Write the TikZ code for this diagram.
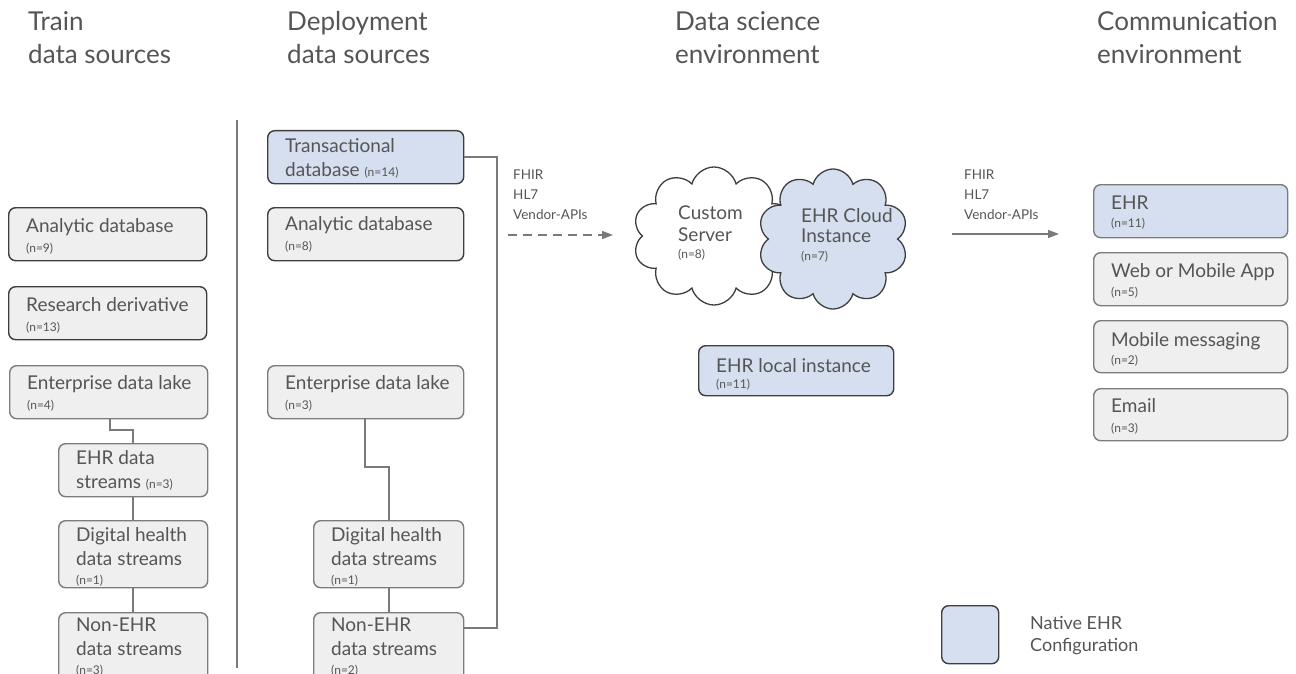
\documentclass[tikz,border=0pt]{standalone}
\usepackage{fontspec}
\setmainfont{Lato}
\usetikzlibrary{shapes.symbols,arrows.meta}

\definecolor{txt}{HTML}{555555}
\definecolor{boxgray}{HTML}{EFEFEF}
\definecolor{ehrblue}{HTML}{D5DFEF}
\definecolor{edgedark}{HTML}{3E3E3E}
\definecolor{edgemid}{HTML}{7C7C7C}
\definecolor{wirecol}{HTML}{7A7A7A}

% small sample-size annotation
\newcommand\cnt[1]{{\fontsize{12}{13}\selectfont(n=#1)}}

% card: name, extra style, x, y, width, height, first baseline offset, text
\newcommand\card[8]{%
  \node[box,#2,minimum width=#5pt,minimum height=#6pt] (#1) at (#3,#4) {};
  \node[lbl] (#1-t) at ([xshift=18pt,yshift={14.5pt-#7pt}]#1.north west) {#8};}

\begin{document}
\begin{tikzpicture}[x=1pt,y=-1pt,
  box/.style={rectangle, rounded corners=7pt, fill=boxgray, draw=edgemid,
    line width=1.4pt, anchor=north west, inner sep=0pt},
  dark/.style={draw=edgedark},
  ehr/.style={fill=ehrblue},
  lbl/.style={anchor=north west, inner sep=0pt, align=left, text=txt,
    font=\fontsize{19}{24}\selectfont, execute at begin node=\rule{0pt}{14.5pt}},
  head/.style={anchor=north west, inner sep=0pt, align=left, text=txt,
    font=\fontsize{26}{33}\selectfont, execute at begin node=\rule{0pt}{19pt}},
  proto/.style={anchor=north west, inner sep=0pt, align=left, text=txt,
    font=\fontsize{13.5}{20}\selectfont, execute at begin node=\rule{0pt}{10.5pt}},
  wire/.style={draw=wirecol, line width=1.4pt},
  flow/.style={draw=wirecol, line width=1.4pt, -{Triangle[length=11pt,width=8pt]}},
  puff/.style={cloud, cloud puffs=10, cloud ignores aspect, draw=edgedark,
    line width=1.3pt, inner sep=0pt}
]
\useasboundingbox (0,0) rectangle (1296,674);
\clip (0,0) rectangle (1296,674);

% column headings
\node[head] (h1) at (28,11) {Train\\data sources};
\node[head] (h2) at (287,11) {Deployment\\data sources};
\node[head] (h3) at (675,11) {Data science\\environment};
\node[head] (h4) at (1097,11) {Communication\\environment};

% separator between training and deployment sources
\coordinate (sepTop) at (237,120);
\coordinate (sepBot) at (237,668);
\draw[draw=wirecol, line width=1.5pt] (sepTop) -- (sepBot);

% training data sources
\card{tA}{dark}{8}{207}{198}{53}{26}{Analytic database\\[-4pt]\cnt{9}}
\card{tR}{dark}{8}{286}{198}{53}{26}{Research derivative\\[-4pt]\cnt{13}}
\card{tE}{}{9}{365}{198}{53}{25}{Enterprise data lake\\[-4pt]\cnt{4}}
\card{tS}{}{58}{443}{149}{53}{22}{EHR data\\streams \cnt{3}}
\card{tD}{}{58}{520}{149}{67}{22}{Digital health\\data streams\\[-5pt]\cnt{1}}
\card{tN}{}{58}{612}{149}{70}{20}{Non-EHR\\data streams\\[-5pt]\cnt{3}}

\coordinate (tk1) at (110,430);
\coordinate (tk2) at (133,430);
\draw[wire] (tE.south -| tk1) -- (tk1) -- (tk2) -- (tS.north -| tk2);
\draw[wire] (tS.south -| tk2) -- (tD.north -| tk2);
\draw[wire] (tD.south -| tk2) -- (tN.north -| tk2);

% deployment data sources
\card{dT}{dark,ehr}{267}{130}{196}{53}{23}{Transactional\\database \cnt{14}}
\card{dA}{dark}{267}{207}{196}{53}{24}{Analytic database\\[-4pt]\cnt{8}}
\card{dE}{}{267}{365}{196}{53}{25}{Enterprise data lake\\[-4pt]\cnt{3}}
\card{dD}{}{313}{520}{150}{67}{22}{Digital health\\data streams\\[-5pt]\cnt{1}}
\card{dN}{}{313}{612}{150}{70}{20}{Non-EHR\\data streams\\[-5pt]\cnt{2}}

\coordinate (dk1) at (365,467);
\coordinate (dk2) at (389,467);
\draw[wire] (dE.south -| dk1) -- (dk1) -- (dk2) -- (dD.north -| dk2);
\draw[wire] (dD.south -| dk2) -- (dN.north -| dk2);

% bracket gathering the deployment sources
\coordinate (brTop) at (497,157);
\coordinate (brBot) at (497,628);
\draw[wire] (dT.east |- brTop) -- (brTop) -- (brBot) -- (dN.east |- brBot);

% transfer into the data science environment
\node[proto] (p1) at (513,169.5) {FHIR\\HL7\\Vendor-APIs};
\coordinate (a1s) at (508,235);
\coordinate (a1e) at (613,235);
\draw[flow, dashed, dash pattern=on 9pt off 6pt] (a1s) -- (a1e);

% data science environment
\node[puff, fill=white, minimum width=162pt, minimum height=138pt] (cs) at (714,236) {};
\node[puff, fill=ehrblue, minimum width=150pt, minimum height=140pt] (cc) at (833,239) {};
\node[lbl] (cs-t) at (678,205.5) {Custom\\[-2pt]Server\\[-7pt]\cnt{8}};
\node[lbl] (cc-t) at (801,208.5) {EHR Cloud\\[-4pt]Instance\\[-6pt]\cnt{7}};
\card{el}{dark,ehr}{698}{345}{195}{50}{28}{EHR local instance\\[-8pt]\cnt{11}}

% transfer into the communication environment
\node[proto] (p2) at (964,169.5) {FHIR\\HL7\\Vendor-APIs};
\coordinate (a2s) at (952,234);
\coordinate (a2e) at (1059,234);
\draw[flow] (a2s) -- (a2e);

% communication environment
\card{cE}{ehr}{1093}{184}{194}{53}{26}{EHR\\[-6pt]\cnt{11}}
\card{cW}{}{1093}{252}{194}{53}{26}{Web or Mobile App\\[-5pt]\cnt{5}}
\card{cM}{}{1093}{320}{194}{52}{27}{Mobile messaging\\[-6pt]\cnt{2}}
\card{cL}{}{1093}{388}{194}{52}{25}{Email\\[-4pt]\cnt{3}}

% legend
\node[box, dark, ehr, minimum width=57pt, minimum height=58pt] (lg) at (941,605) {};
\node[lbl, font=\fontsize{18}{22}\selectfont, execute at begin node=\rule{0pt}{13.5pt}]
  (lg-t) at (1030,616.5) {Native EHR\\Configuration};
\end{tikzpicture}
\end{document}
